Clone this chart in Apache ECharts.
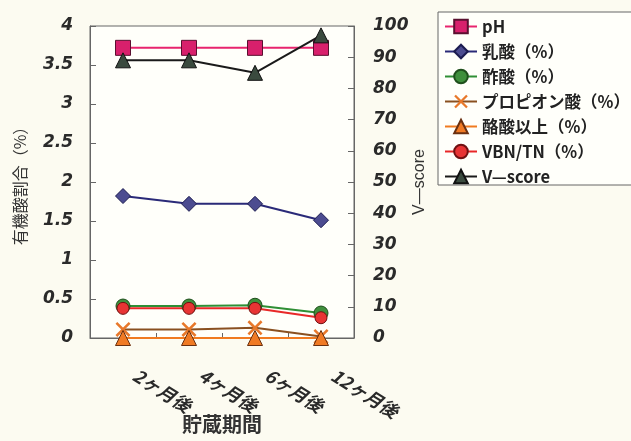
<!DOCTYPE html>
<html>
<head>
<meta charset="utf-8">
<script src="https://cdn.jsdelivr.net/npm/echarts@6/dist/echarts.min.js"></script>
<style>
html,body{margin:0;padding:0;background:#fcfbf1;}
#c{width:631px;height:441px;}
</style>
</head>
<body>
<div id="c"></div>
<script>
var categories = ['2ヶ月後', '4ヶ月後', '6ヶ月後', '12ヶ月後'];
var pH = [3.72, 3.72, 3.72, 3.72];
var lactic = [1.82, 1.72, 1.72, 1.51];
var acetic = [0.41, 0.41, 0.42, 0.32];
var propionic = [0.11, 0.11, 0.13, 0.02];
var butyric = [0, 0, 0, 0];
var vbnTn = [0.38, 0.38, 0.38, 0.26];
var vScore = [89, 89, 85, 97];
var seriesNames = ['pH', '乳酸（%）', '酢酸（%）', 'プロピオン酸（%）', '酪酸以上（%）', 'VBN/TN（%）', 'V—score'];

var chart = echarts.init(document.getElementById('c'), null, {renderer: 'canvas'});
var tickFont = {fontFamily: 'DejaVu Sans', fontStyle: 'italic', fontWeight: 'bold', fontSize: 17, color: '#2a2a2a'};
var xMark = 'path://M0,1.2 L1.2,0 L10,8.8 L8.8,10 Z M8.8,0 L10,1.2 L1.2,10 L0,8.8 Z';

function mk(name, data, yIdx, lineColor, symbol, size, fill, border) {
  return {
    name: name, type: 'line', data: data, yAxisIndex: yIdx,
    symbol: symbol, symbolSize: size, showSymbol: true,
    lineStyle: {color: lineColor, width: 2},
    itemStyle: {color: fill, borderColor: border, borderWidth: border === 'none' ? 0 : 1},
    emphasis: {disabled: true}
  };
}

var option = {
  backgroundColor: '#fcfbf1',
  animation: false,
  grid: {left: 90, right: 277, top: 26, bottom: 103, containLabel: false, outerBoundsMode: 'none',
         show: true, borderColor: '#666', borderWidth: 1, backgroundColor: '#fffffa'},
  legend: {
    orient: 'vertical', left: 438, top: 12,
    padding: [6, 40, 0, 6], itemGap: 8,
    itemWidth: 32, itemHeight: 17,
    borderColor: '#666', borderWidth: 1, backgroundColor: '#fffffa',
    textStyle: {fontFamily: 'Noto Sans CJK JP', fontWeight: 'bold', fontSize: 16.5, color: '#222', lineHeight: 17},
    data: seriesNames
  },
  xAxis: {
    type: 'category', data: categories, boundaryGap: true,
    name: '貯蔵期間', nameLocation: 'middle', nameGap: 76, nameMoveOverlap: false,
    nameTextStyle: {fontFamily: 'Noto Sans CJK JP', fontSize: 20, color: '#333', fontWeight: 'bold'},
    axisLine: {lineStyle: {color: '#666'}},
    axisTick: {show: true, inside: true, length: 5, lineStyle: {color: '#666'}},
    axisLabel: {rotate: -32, margin: 28, padding: [0, 0, 0, 14], fontFamily: 'Noto Sans CJK JP', fontStyle: 'italic', fontWeight: 'bold', fontSize: 18, color: '#2a2a2a', interval: 0}
  },
  yAxis: [
    {
      type: 'value', min: 0, max: 4, interval: 0.5, position: 'left',
      name: '有機酸割合（%）', nameLocation: 'middle', nameGap: 62, nameMoveOverlap: false,
      nameTextStyle: {fontFamily: 'Noto Sans CJK JP', fontSize: 16, color: '#333'},
      axisLine: {show: true, lineStyle: {color: '#666'}},
      axisTick: {show: true, inside: true, length: 6, lineStyle: {color: '#666'}},
      splitLine: {show: false},
      axisLabel: Object.assign({margin: 17}, tickFont)
    },
    {
      type: 'value', min: 0, max: 100, interval: 10, position: 'right',
      name: 'V—score', nameLocation: 'middle', nameGap: 58, nameMoveOverlap: false,
      nameTextStyle: {fontFamily: 'Liberation Sans', fontSize: 16, color: '#333'},
      axisLine: {show: true, lineStyle: {color: '#666'}},
      axisTick: {show: true, inside: true, length: 6, lineStyle: {color: '#666'}},
      splitLine: {show: false},
      axisLabel: Object.assign({margin: 19}, tickFont)
    }
  ],
  series: [
    mk(seriesNames[0], pH, 0, '#e8246e', 'rect', 15, '#d8206c', '#5a1030'),
    mk(seriesNames[1], lactic, 0, '#2a2a78', 'diamond', 15, '#4c4c90', '#1c1c50'),
    mk(seriesNames[2], acetic, 0, '#2f8f35', 'circle', 14, '#3f8f3c', '#1f4f1c'),
    mk(seriesNames[3], propionic, 0, '#8a5020', xMark, 15, '#e8782a', 'none'),
    mk(seriesNames[4], butyric, 0, '#f07a20', 'triangle', 15, '#f07a24', '#6a3010'),
    mk(seriesNames[5], vbnTn, 0, '#e82828', 'circle', 12, '#e83434', '#701010'),
    mk(seriesNames[6], vScore, 1, '#1a1a1a', 'triangle', 15, '#3a4a3e', '#111')
  ]
};
chart.setOption(option);
</script>
</body>
</html>
